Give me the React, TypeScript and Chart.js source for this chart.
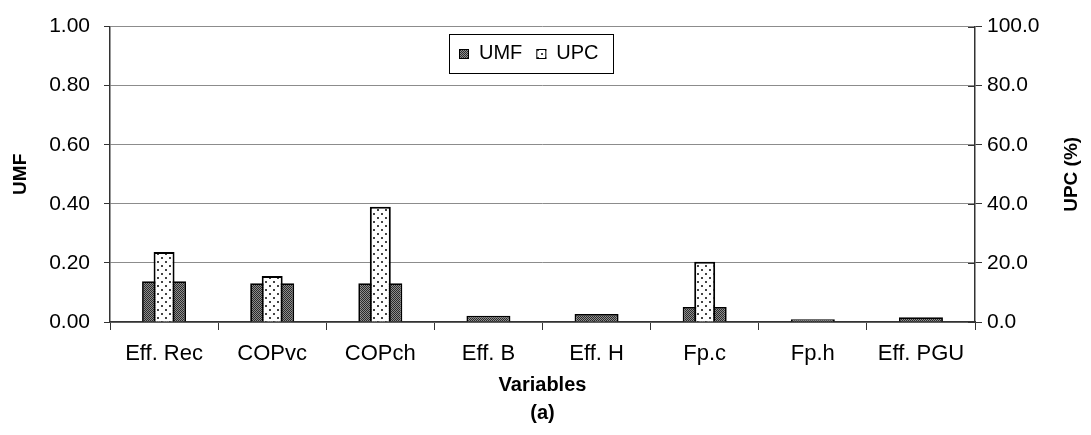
import { useEffect, useRef } from 'react';
import { Chart, registerables } from 'chart.js';

Chart.register(...registerables);

// Sensitivity results per input variable
const categories = ['Eff. Rec', 'COPvc', 'COPch', 'Eff. B', 'Eff. H', 'Fp.c', 'Fp.h', 'Eff. PGU'];
const umfValues = [0.138, 0.131, 0.131, 0.021, 0.027, 0.051, 0.009, 0.016];
const upcValues = [23.7, 15.6, 39.0, 0, 0.4, 20.4, 0, 0];

const umfTickLabels = ['0.00', '0.20', '0.40', '0.60', '0.80', '1.00'];
const upcTickLabels = ['0.0', '20.0', '40.0', '60.0', '80.0', '100.0'];
const rightAxisTitle = 'UPC (%)';

const FONT = '"Liberation Sans", Arial, Helvetica, sans-serif';

function makeCheckerPattern(): CanvasPattern | string {
  const c = document.createElement('canvas');
  c.width = 2;
  c.height = 2;
  const g = c.getContext('2d');
  if (!g) return '#666';
  g.fillStyle = '#8e8e8e';
  g.fillRect(0, 0, 2, 2);
  g.fillStyle = '#2a2a2a';
  g.fillRect(0, 0, 1, 1);
  g.fillRect(1, 1, 1, 1);
  return g.createPattern(c, 'repeat') || '#666';
}

function makeDotPattern(): CanvasPattern | string {
  const c = document.createElement('canvas');
  c.width = 8;
  c.height = 8;
  const g = c.getContext('2d');
  if (!g) return '#fff';
  g.fillStyle = '#ffffff';
  g.fillRect(0, 0, 8, 8);
  g.fillStyle = '#444444';
  g.fillRect(1, 1, 2, 2);
  g.fillRect(5, 5, 2, 2);
  return g.createPattern(c, 'repeat') || '#fff';
}

// Boxed legend drawn inside the plot area
const boxLegend = {
  id: 'boxLegend',
  afterDraw(chart: any) {
    const { ctx, chartArea } = chart;
    const boxW = 164;
    const boxH = 39;
    const boxLeft = Math.round(chartArea.left + 339);
    const boxTop = Math.round(chartArea.top + 7);
    ctx.save();
    ctx.fillStyle = '#ffffff';
    ctx.fillRect(boxLeft, boxTop, boxW, boxH);
    ctx.strokeStyle = '#000000';
    ctx.lineWidth = 1;
    ctx.strokeRect(boxLeft + 0.5, boxTop + 0.5, boxW, boxH);
    ctx.font = `20px ${FONT}`;
    ctx.textBaseline = 'middle';
    ctx.textAlign = 'left';
    const cy = boxTop + boxH / 2;
    let x = boxLeft + 10;
    chart.data.datasets.forEach((ds: any) => {
      ctx.fillStyle = ds.backgroundColor;
      ctx.fillRect(x, Math.round(cy - 5), 10, 10);
      ctx.strokeStyle = '#000000';
      ctx.strokeRect(x + 0.5, Math.round(cy - 5) + 0.5, 9, 9);
      x += 20;
      ctx.fillStyle = '#000000';
      ctx.fillText(ds.label, x, cy);
      x += ctx.measureText(ds.label).width + 14;
    });
    ctx.restore();
  },
};

// Right axis: tick marks that cross into the plot area, and a title read bottom to top
const rightAxisExtras = {
  id: 'rightAxisExtras',
  afterDraw(chart: any) {
    const s = chart.scales.y1;
    const { ctx, chartArea } = chart;
    ctx.save();
    ctx.strokeStyle = '#333333';
    ctx.lineWidth = 1;
    s.ticks.forEach((_t: any, i: number) => {
      const y = Math.round(s.getPixelForTick(i)) + 0.5;
      ctx.beginPath();
      ctx.moveTo(s.left - 7, y);
      ctx.lineTo(s.left, y);
      ctx.stroke();
    });
    ctx.translate(s.right - 19.5, (chartArea.top + chartArea.bottom) / 2);
    ctx.rotate(-Math.PI / 2);
    ctx.font = `bold 19px ${FONT}`;
    ctx.fillStyle = '#000000';
    ctx.textAlign = 'center';
    ctx.textBaseline = 'middle';
    ctx.fillText(rightAxisTitle, 0, 0);
    ctx.restore();
  },
};

export default function App() {
  const canvasRef = useRef<HTMLCanvasElement | null>(null);

  useEffect(() => {
    const canvas = canvasRef.current;
    if (!canvas) return;
    const umfFill = makeCheckerPattern();
    const upcFill = makeDotPattern();

    const chart = new Chart(canvas, {
      type: 'bar',
      data: {
        labels: categories,
        datasets: [
          {
            label: 'UMF',
            data: umfValues,
            yAxisID: 'y',
            backgroundColor: umfFill as any,
            borderColor: '#000000',
            borderWidth: 1.8,
            grouped: false,
            categoryPercentage: 1,
            barPercentage: 0.407,
            order: 1,
          },
          {
            label: 'UPC',
            data: upcValues,
            yAxisID: 'y1',
            backgroundColor: upcFill as any,
            borderColor: '#000000',
            borderWidth: 2,
            grouped: false,
            categoryPercentage: 1,
            barPercentage: 0.194,
            order: 0,
          },
        ],
      },
      options: {
        responsive: false,
        animation: false,
        layout: { padding: { top: 22, left: 0, right: 0, bottom: 0 } },
        plugins: {
          legend: { display: false },
          tooltip: { enabled: false },
        },
        scales: {
          x: {
            offset: true,
            grid: {
              offset: true,
              drawOnChartArea: false,
              drawTicks: true,
              tickLength: 8,
              tickColor: '#333333',
            },
            border: { display: true, color: '#333333', width: 1.5 },
            ticks: {
              color: '#000000',
              font: { family: FONT, size: 22 },
              padding: 11,
              maxRotation: 0,
              autoSkip: false,
            },
            title: {
              display: true,
              text: ['Variables', '(a)'],
              color: '#000000',
              font: { family: FONT, size: 20, weight: 'bold', lineHeight: 1.4 },
              padding: { top: 0, bottom: 8 },
            },
            afterFit(scale: any) {
              scale.height = 113;
            },
          },
          y: {
            position: 'left',
            min: 0,
            max: 1,
            ticks: {
              stepSize: 0.2,
              color: '#000000',
              font: { family: FONT, size: 21 },
              padding: 14,
              callback: (_v: any, i: number) => umfTickLabels[i],
            },
            grid: {
              color: '#8c8c8c',
              lineWidth: 1,
              drawTicks: true,
              tickLength: 6,
              tickColor: '#333333',
            },
            border: { display: true, color: '#333333', width: 1.5 },
            title: {
              display: true,
              text: 'UMF',
              color: '#000000',
              font: { family: FONT, size: 19, weight: 'bold' },
              padding: { top: 9, bottom: 0 },
            },
            afterFit(scale: any) {
              scale.width = 110;
            },
          },
          y1: {
            position: 'right',
            min: 0,
            max: 100,
            ticks: {
              stepSize: 20,
              color: '#000000',
              font: { family: FONT, size: 21 },
              padding: 5,
              callback: (_v: any, i: number) => upcTickLabels[i],
            },
            grid: {
              drawOnChartArea: false,
              drawTicks: true,
              tickLength: 7,
              tickColor: '#333333',
            },
            border: { display: true, color: '#333333', width: 1.5 },
            title: { display: false },
            afterFit(scale: any) {
              scale.width = 116;
            },
          },
        },
      },
      plugins: [boxLegend, rightAxisExtras],
    });

    return () => chart.destroy();
  }, []);

  return (
    <div style={{ position: 'fixed', left: 0, top: 0, width: 1091, height: 435, background: '#ffffff' }}>
      <canvas ref={canvasRef} width={1091} height={435} style={{ display: 'block' }} />
    </div>
  );
}
